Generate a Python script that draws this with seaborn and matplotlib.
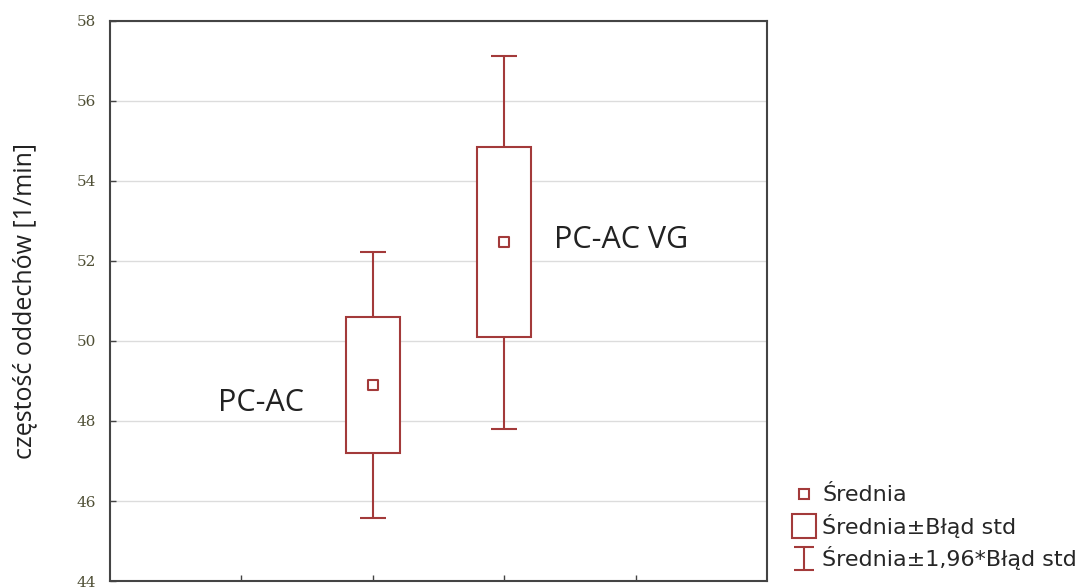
import matplotlib
matplotlib.use("Agg")
import matplotlib.pyplot as plt
import seaborn as sns
import pandas as pd
from matplotlib.lines import Line2D

# data
groups = ["PC-AC", "PC-AC VG"]
means = [48.9, 52.47]
std_err = [1.70, 2.38]
group_pos = [2, 3]          # category slots on a 0..5 axis
y_ticks = [44, 46, 48, 50, 52, 54, 56, 58]

RED = "#a33a3a"


def main():
    sns.set_theme(style="white")
    plt.rcParams["font.family"] = ["Liberation Sans", "DejaVu Sans"]

    df = pd.DataFrame({"group": groups, "mean": means, "se": std_err, "pos": group_pos})
    df["lo"] = df["mean"] - df["se"]
    df["ci"] = 1.96 * df["se"]

    fig = plt.figure(figsize=(10.92, 5.88), dpi=100)
    ax = fig.add_axes([0.1007, 0.0119, 0.6017, 0.9524])

    # grid first
    for t in y_ticks:
        ax.axhline(t, color="#dcdcdc", lw=1, zorder=0)

    # whiskers (mean +/- 1.96 SE)
    ax.errorbar(df["pos"], df["mean"], yerr=df["ci"], fmt="none", ecolor=RED,
                elinewidth=1.5, capsize=9.5, capthick=1.5, zorder=1)
    # boxes (mean +/- SE)
    ax.bar(df["pos"], 2 * df["se"], bottom=df["lo"], width=0.41, facecolor="white",
           edgecolor=RED, linewidth=1.5, zorder=2)
    # means
    sns.scatterplot(data=df, x="pos", y="mean", marker="s", s=45, facecolor="white",
                    edgecolor=RED, linewidth=1.5, ax=ax, zorder=3, legend=False)

    # group labels
    lab_font = ["Open Sans", "DejaVu Sans"]
    ax.text(df["pos"][0] - 0.85, df["mean"][0] - 0.45, groups[0], fontsize=22,
            ha="center", va="center", family=lab_font, color="#222222")
    ax.text(df["pos"][1] + 0.89, df["mean"][1] + 0.05, groups[1], fontsize=22,
            ha="center", va="center", family=lab_font, color="#222222")

    ax.set_xlim(0, 5)
    ax.set_ylim(44, 58)
    ax.set_xticks([1, 2, 3, 4])
    ax.set_xticklabels([])
    ax.set_yticks(y_ticks)
    ax.set_yticklabels([str(t) for t in y_ticks], family=["DejaVu Serif"], fontsize=11,
                       color="#4f4f35")
    ax.tick_params(axis="both", direction="in", length=4, width=1, color="#444444",
                   left=True, bottom=True, pad=10)
    for sp in ax.spines.values():
        sp.set_color("#444444")
        sp.set_linewidth(1.5)
    ax.set_xlabel("")
    ax.set_ylabel("częstość oddechów [1/min]", fontsize=18, color="#222222",
                  family=lab_font, labelpad=28)

    # legend outside the plot; the dummy errorbar sits off-axis so only its handle shows
    eb = ax.errorbar([-10], [50], yerr=[1], fmt="none", ecolor=RED, elinewidth=1.5,
                     capsize=7, capthick=1.5)
    handles = [
        Line2D([], [], ls="none", marker="s", ms=7, mfc="white", mec=RED, mew=1.5),
        Line2D([], [], ls="none", marker="s", ms=17, mfc="white", mec=RED, mew=1.5),
        eb,
    ]
    labels = ["Średnia", "Średnia±Błąd std", "Średnia±1,96*Błąd std"]
    fig.legend(handles, labels, loc="lower left", bbox_to_anchor=(0.708, 0.0),
               frameon=False, handlelength=1.2, handletextpad=0.2,
               labelspacing=0.38, borderpad=0.3, prop={"family": ["DejaVu Sans"], "size": 16})

    fig.savefig("out.png", dpi=100)


if __name__ == "__main__":
    main()
